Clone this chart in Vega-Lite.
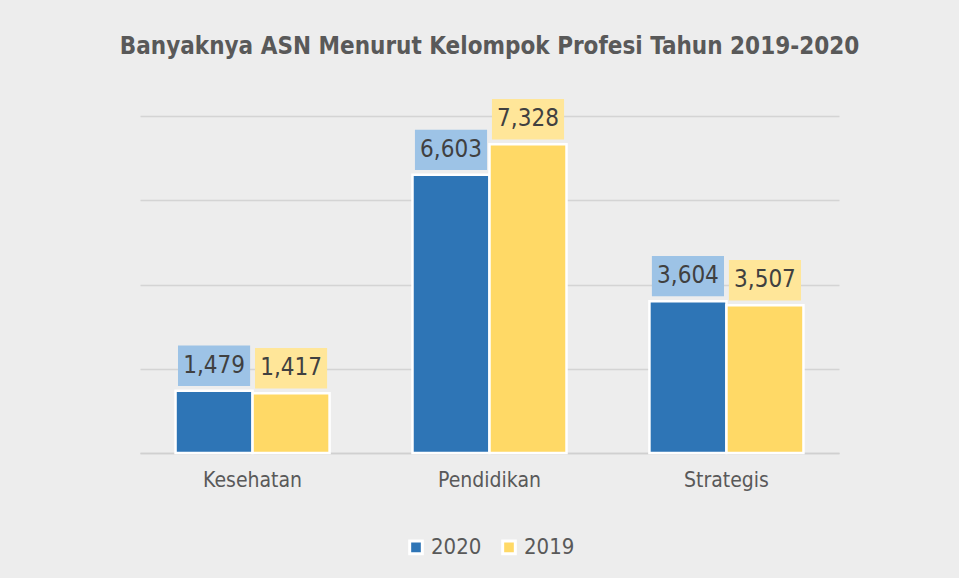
{
  "$schema": "https://vega.github.io/schema/vega-lite/v6.json",
  "autosize": {"type": "fit", "contains": "padding"},
  "width": 959,
  "height": 578,
  "background": "#ededed",
  "padding": {"left": 140, "right": 120, "top": 52, "bottom": 18},
  "title": {
    "text": "Banyaknya ASN Menurut Kelompok Profesi Tahun 2019-2020",
    "font": "DejaVu Sans Condensed",
    "fontSize": 24,
    "fontWeight": "bold",
    "color": "#595959",
    "anchor": "middle",
    "offset": 40
  },
  "config": {
    "view": {"stroke": null},
    "font": "DejaVu Sans Condensed",
    "legend": {"layout": {"bottom": {"anchor": "middle"}}}
  },
  "data": {
    "values": [
      {"profesi": "Kesehatan", "tahun": "2020", "jumlah": 1479},
      {"profesi": "Kesehatan", "tahun": "2019", "jumlah": 1417},
      {"profesi": "Pendidikan", "tahun": "2020", "jumlah": 6603},
      {"profesi": "Pendidikan", "tahun": "2019", "jumlah": 7328},
      {"profesi": "Strategis", "tahun": "2020", "jumlah": 3604},
      {"profesi": "Strategis", "tahun": "2019", "jumlah": 3507}
    ]
  },
  "encoding": {
    "x": {
      "field": "profesi",
      "type": "nominal",
      "sort": ["Kesehatan", "Pendidikan", "Strategis"],
      "scale": {"paddingInner": 0.35, "paddingOuter": 0.15},
      "axis": {
        "title": null,
        "labelAngle": 0,
        "labelFontSize": 21,
        "labelColor": "#595959",
        "labelPadding": 16,
        "domainColor": "#d0d0d0",
        "ticks": false,
        "domainWidth": 1.5
      }
    },
    "xOffset": {"field": "tahun", "type": "nominal", "sort": ["2020", "2019"]},
    "y": {
      "field": "jumlah",
      "type": "quantitative",
      "scale": {"domain": [0, 8000]},
      "axis": {
        "title": null,
        "labels": false,
        "ticks": false,
        "domain": false,
        "values": [0, 2000, 4000, 6000, 8000],
        "gridColor": "#d4d4d4",
        "gridWidth": 1.5
      }
    }
  },
  "layer": [
    {
      "mark": {"type": "bar", "stroke": "white", "strokeWidth": 2.5},
      "encoding": {
        "color": {
          "field": "tahun",
          "type": "nominal",
          "sort": ["2020", "2019"],
          "scale": {"domain": ["2020", "2019"], "range": ["#2e75b6", "#ffd966"]},
          "legend": {
            "title": null,
            "orient": "bottom",
            "direction": "horizontal",
            "symbolType": "square",
            "symbolSize": 160,
            "symbolStrokeColor": "white",
            "symbolStrokeWidth": 3,
            "labelFontSize": 22,
            "labelColor": "#595959",
            "columnPadding": 14,
            "offset": 46
          }
        }
      }
    },
    {
      "mark": {
        "type": "point",
        "shape": "M-1,-0.56H1V0.56H-1Z",
        "filled": true,
        "opacity": 1,
        "size": 5200,
        "yOffset": -25
      },
      "encoding": {
        "fill": {
          "field": "tahun",
          "type": "nominal",
          "scale": {"domain": ["2020", "2019"], "range": ["#9dc3e6", "#ffe699"]},
          "legend": null
        },
        "stroke": {"value": null}
      }
    },
    {
      "mark": {
        "type": "text",
        "fontSize": 24,
        "color": "#404040",
        "yOffset": -25,
        "baseline": "middle"
      },
      "encoding": {
        "text": {"field": "jumlah", "type": "quantitative", "format": ",d"}
      }
    }
  ]
}
